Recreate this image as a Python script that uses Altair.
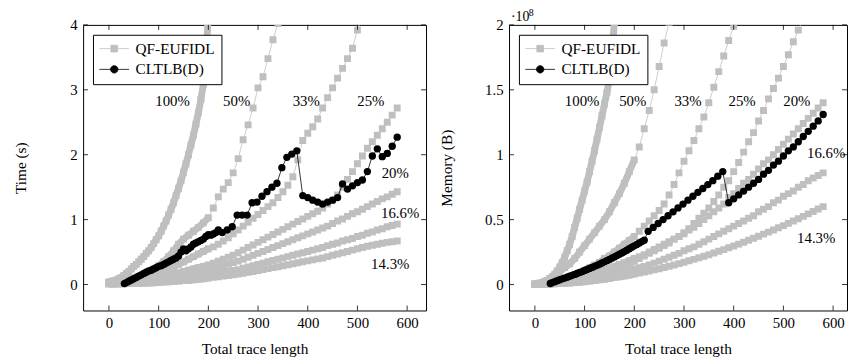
import altair as alt
import pandas as pd

FONT = "Liberation Serif"
GRAY = "#bfbfbf"

SERIES = ["100%", "50%", "33%", "25%", "20%", "16.6%", "14.3%"]

X_FINE = list(range(0, 201, 5))
X_DENSE = list(range(0, 201, 10))
X_SPARSE = list(range(210, 581, 10))
XB_DENSE = [31] + list(range(35, 221, 5))
XB_MID = list(range(228, 379, 10))
XB_END = list(range(390, 581, 10))

X_TICKS = [0, 100, 200, 300, 400, 500, 600]
T_TICKS = [0, 1, 2, 3, 4]
M_TICKS = [0, 0.5, 1, 1.5, 2]

# ---------------- Time (s) ----------------
T100 = [0.04, 0.05, 0.06, 0.07, 0.09, 0.11, 0.14, 0.17, 0.2, 0.24, 0.28, 0.31, 0.35, 0.39, 0.43,
        0.48, 0.52, 0.57, 0.63, 0.69, 0.75, 0.82, 0.9, 0.98, 1.07, 1.16, 1.26, 1.37, 1.48, 1.6,
        1.73, 1.86, 2.0, 2.15, 2.3, 2.47, 2.65, 2.85, 3.08, 3.4, 4.2]
T50_D = [0.03, 0.035, 0.045, 0.06, 0.08, 0.1, 0.13, 0.16, 0.2, 0.24, 0.29, 0.35, 0.43, 0.52, 0.62,
         0.7, 0.76, 0.82, 0.88, 0.95, 1.03]
T50_S = [1.18, 1.35, 1.47, 1.57, 1.72, 1.94, 2.23, 2.46, 2.72, 3.03, 3.2, 3.48, 3.77, 4.02]
T33_D = [0.03, 0.03, 0.035, 0.04, 0.05, 0.06, 0.08, 0.1, 0.12, 0.15, 0.18, 0.21, 0.24, 0.27, 0.31,
         0.35, 0.39, 0.43, 0.47, 0.51, 0.55]
T33_S = [0.58, 0.62, 0.67, 0.72, 0.78, 0.84, 0.9, 0.96, 1.02, 1.08, 1.14, 1.2, 1.26, 1.34, 1.43,
         1.53, 1.66, 1.92, 2.22, 2.33, 2.43, 2.55, 2.72, 2.88, 3.03, 3.18, 3.33, 3.48, 3.64, 3.92, 4.15]
T25_D = [0.02, 0.02, 0.025, 0.03, 0.035, 0.04, 0.05, 0.06, 0.07, 0.09, 0.1, 0.12, 0.14, 0.16, 0.18,
         0.2, 0.22, 0.24, 0.26, 0.28, 0.3]
T25_S = [0.33, 0.36, 0.39, 0.42, 0.45, 0.49, 0.53, 0.57, 0.61, 0.65, 0.69, 0.73, 0.77, 0.81, 0.85,
         0.89, 0.93, 0.97, 1.01, 1.05, 1.09, 1.13, 1.18, 1.24, 1.3, 1.38, 1.5, 1.62, 1.74, 1.86,
         1.98, 2.1, 2.2, 2.3, 2.4, 2.5, 2.61, 2.72]
T20_D = [0.01, 0.01, 0.015, 0.02, 0.025, 0.03, 0.035, 0.04, 0.05, 0.06, 0.07, 0.08, 0.09, 0.1, 0.12,
         0.13, 0.15, 0.17, 0.19, 0.21, 0.23]
T20_S = [0.25, 0.27, 0.29, 0.31, 0.34, 0.36, 0.39, 0.42, 0.45, 0.48, 0.51, 0.54, 0.57, 0.6, 0.63,
         0.66, 0.69, 0.72, 0.75, 0.78, 0.81, 0.84, 0.87, 0.9, 0.94, 0.98, 1.01, 1.05, 1.09, 1.12,
         1.16, 1.2, 1.24, 1.28, 1.32, 1.35, 1.39, 1.43]
T166_D = [0.01, 0.01, 0.012, 0.015, 0.02, 0.022, 0.025, 0.03, 0.035, 0.04, 0.045, 0.05, 0.06, 0.07,
          0.08, 0.09, 0.1, 0.11, 0.12, 0.13, 0.14]
T166_S = [0.155, 0.17, 0.185, 0.2, 0.215, 0.23, 0.25, 0.27, 0.29, 0.31, 0.33, 0.35, 0.37, 0.39, 0.41,
          0.43, 0.45, 0.47, 0.49, 0.51, 0.53, 0.55, 0.57, 0.6, 0.62, 0.64, 0.67, 0.69, 0.71, 0.74,
          0.76, 0.79, 0.81, 0.84, 0.86, 0.89, 0.91, 0.93]
T143_D = [0.01, 0.01, 0.01, 0.012, 0.014, 0.016, 0.018, 0.02, 0.024, 0.028, 0.032, 0.037, 0.042,
          0.048, 0.054, 0.06, 0.067, 0.074, 0.082, 0.09, 0.1]
T143_S = [0.11, 0.12, 0.13, 0.14, 0.15, 0.16, 0.175, 0.19, 0.2, 0.215, 0.23, 0.245, 0.26, 0.275, 0.29,
          0.305, 0.32, 0.335, 0.35, 0.365, 0.38, 0.395, 0.41, 0.43, 0.45, 0.47, 0.49, 0.51, 0.53,
          0.55, 0.57, 0.59, 0.605, 0.62, 0.635, 0.65, 0.66, 0.67]
TB_DENSE = [0.015, 0.03, 0.05, 0.07, 0.09, 0.11, 0.13, 0.15, 0.17, 0.19, 0.21, 0.22, 0.24, 0.26, 0.28,
            0.29, 0.31, 0.33, 0.35, 0.37, 0.39, 0.41, 0.44, 0.5, 0.55, 0.52, 0.55, 0.58, 0.62, 0.64,
            0.66, 0.68, 0.7, 0.74, 0.77, 0.76, 0.78, 0.8, 0.84]
TB_MID = [0.8, 0.84, 0.89, 1.07, 1.07, 1.07, 1.26, 1.27, 1.36, 1.43, 1.5, 1.56, 1.8, 1.96, 2.01, 2.06]
TB_END = [1.37, 1.34, 1.3, 1.27, 1.24, 1.27, 1.3, 1.34, 1.55, 1.47, 1.52, 1.57, 1.61, 1.74, 1.98,
          2.09, 1.97, 2.02, 2.13, 2.27]

# ---------------- Memory (B, x 1e8) ----------------
M100 = [0.005, 0.007, 0.01, 0.015, 0.022, 0.032, 0.045, 0.06, 0.08, 0.105, 0.135, 0.17, 0.21, 0.26,
        0.31, 0.37, 0.44, 0.51, 0.58, 0.65, 0.72, 0.79, 0.87, 0.95, 1.03, 1.12, 1.21, 1.3, 1.39,
        1.48, 1.58, 1.78, 2.02, 2.3]
M50_D = [0.003, 0.01, 0.025, 0.045, 0.07, 0.1, 0.13, 0.16, 0.2, 0.25, 0.3, 0.35, 0.4, 0.45, 0.5,
         0.56, 0.63, 0.7, 0.78, 0.87, 0.96]
M50_S = [1.06, 1.2, 1.34, 1.5, 1.68, 1.86, 2.02]
M33_D = [0.002, 0.005, 0.01, 0.015, 0.025, 0.035, 0.045, 0.06, 0.075, 0.09, 0.11, 0.13, 0.15, 0.17,
         0.2, 0.22, 0.25, 0.28, 0.31, 0.34, 0.37]
M33_S = [0.41, 0.45, 0.49, 0.53, 0.57, 0.62, 0.69, 0.77, 0.86, 0.95, 1.03, 1.11, 1.2, 1.29, 1.4,
         1.52, 1.64, 1.76, 1.88, 1.99]
M25_D = [0.002, 0.004, 0.007, 0.01, 0.015, 0.02, 0.026, 0.033, 0.04, 0.048, 0.056, 0.065, 0.075,
         0.085, 0.096, 0.11, 0.12, 0.135, 0.15, 0.165, 0.18]
M25_S = [0.2, 0.22, 0.24, 0.26, 0.28, 0.3, 0.32, 0.35, 0.37, 0.4, 0.43, 0.47, 0.51, 0.55, 0.59, 0.64,
         0.69, 0.75, 0.8, 0.87, 0.94, 1.02, 1.1, 1.17, 1.26, 1.34, 1.43, 1.51, 1.59, 1.68, 1.77,
         1.87, 1.96, 2.05]
M20_D = [0.002, 0.004, 0.007, 0.011, 0.016, 0.022, 0.029, 0.037, 0.046, 0.056, 0.066, 0.077, 0.088,
         0.1, 0.113, 0.126, 0.14, 0.154, 0.168, 0.183, 0.2]
M20_S = [0.215, 0.23, 0.25, 0.27, 0.29, 0.31, 0.33, 0.35, 0.37, 0.39, 0.42, 0.44, 0.47, 0.5, 0.53,
         0.56, 0.59, 0.62, 0.67, 0.7, 0.74, 0.78, 0.81, 0.85, 0.89, 0.93, 0.96, 1.0, 1.04, 1.08,
         1.12, 1.16, 1.2, 1.24, 1.28, 1.32, 1.36, 1.4]
M166_D = [0.001, 0.002, 0.004, 0.006, 0.009, 0.012, 0.016, 0.02, 0.025, 0.03, 0.036, 0.042, 0.049,
          0.056, 0.064, 0.072, 0.081, 0.09, 0.1, 0.11, 0.12]
M166_S = [0.13, 0.14, 0.15, 0.165, 0.18, 0.195, 0.21, 0.225, 0.24, 0.26, 0.275, 0.29, 0.31, 0.33,
          0.35, 0.37, 0.39, 0.41, 0.43, 0.45, 0.47, 0.49, 0.51, 0.53, 0.56, 0.58, 0.6, 0.63, 0.65,
          0.68, 0.7, 0.72, 0.75, 0.77, 0.8, 0.82, 0.84, 0.86]
M143_D = [0.001, 0.001, 0.002, 0.003, 0.005, 0.007, 0.009, 0.012, 0.015, 0.018, 0.022, 0.026, 0.031,
          0.036, 0.041, 0.047, 0.053, 0.059, 0.066, 0.073, 0.08]
M143_S = [0.088, 0.096, 0.104, 0.113, 0.122, 0.131, 0.141, 0.151, 0.161, 0.172, 0.183, 0.194, 0.206,
          0.218, 0.23, 0.243, 0.256, 0.269, 0.283, 0.297, 0.311, 0.326, 0.341, 0.356, 0.372, 0.388,
          0.404, 0.42, 0.437, 0.454, 0.471, 0.489, 0.507, 0.525, 0.544, 0.563, 0.582, 0.6]
MB_DENSE = [0.008, 0.015, 0.022, 0.03, 0.037, 0.044, 0.05, 0.057, 0.064, 0.071, 0.078, 0.085, 0.093,
            0.1, 0.108, 0.116, 0.124, 0.132, 0.14, 0.148, 0.157, 0.166, 0.175, 0.184, 0.193, 0.203,
            0.213, 0.223, 0.233, 0.243, 0.254, 0.265, 0.276, 0.287, 0.298, 0.309, 0.32, 0.331, 0.342]
MB_MID = [0.41, 0.44, 0.47, 0.5, 0.53, 0.56, 0.59, 0.62, 0.65, 0.68, 0.71, 0.74, 0.77, 0.8, 0.835, 0.87]
MB_END = [0.63, 0.66, 0.69, 0.72, 0.75, 0.78, 0.81, 0.85, 0.88, 0.92, 0.95, 0.99, 1.03, 1.06, 1.1,
          1.14, 1.18, 1.22, 1.26, 1.31]

# curve labels (text, x, y)
T_LABELS = [("100%", 128, 2.83), ("50%", 257, 2.83), ("33%", 397, 2.83), ("25%", 527, 2.83),
            ("20%", 576, 1.71), ("16.6%", 586, 1.1), ("14.3%", 566, 0.32)]
M_LABELS = [("100%", 95, 1.41), ("50%", 197, 1.41), ("33%", 308, 1.41), ("25%", 417, 1.41),
            ("20%", 527, 1.41), ("16.6%", 586, 1.01), ("14.3%", 566, 0.36)]

METHODS = ["QF-EUFIDL", "CLTLB(D)"]

SQ_PATH = "M-2,0H2M-0.45,-0.45H0.45V0.45H-0.45Z"
CI_PATH = "M-2,0H2M0.5,0A0.5,0.5 0 1,1 -0.5,0A0.5,0.5 0 1,1 0.5,0Z"


def build_gray(dense, sparse):
    rd, ra = [], []
    for s in SERIES:
        xd = X_FINE if s == "100%" else X_DENSE
        for x, y in zip(xd, dense[s]):
            rd.append({"series": s, "x": x, "y": y, "method": "QF-EUFIDL"})
            ra.append({"series": s, "x": x, "y": y, "method": "QF-EUFIDL"})
        for x, y in zip(X_SPARSE, sparse.get(s, [])):
            ra.append({"series": s, "x": x, "y": y, "method": "QF-EUFIDL"})
    return pd.DataFrame(rd), pd.DataFrame(ra)


def build_black(yd, ym, ye):
    xs = XB_DENSE + XB_MID + XB_END
    ys = yd + ym + ye
    return pd.DataFrame({"x": xs, "y": ys, "method": "CLTLB(D)"})


def panel(dense_df, all_df, blk_df, labels, ydomain, yticks, ytitle, width, xdomain, height=289,
          exponent=False):
    X = alt.X("x:Q", scale=alt.Scale(domain=xdomain, nice=False, zero=False),
              axis=alt.Axis(values=X_TICKS, labelPadding=5, titlePadding=12,
                            title="Total trace length"))
    Y = alt.Y("y:Q", scale=alt.Scale(domain=ydomain, nice=False, zero=False),
              axis=alt.Axis(values=yticks, format="~g", labelPadding=6, titlePadding=15,
                            minExtent=40, maxExtent=40, title=ytitle))
    cscale = alt.Scale(domain=METHODS, range=[GRAY, "black"])
    leg = alt.Legend(
        title=None, orient="top-left", offset=10, padding=6, strokeColor="black",
        fillColor="white", cornerRadius=0, symbolSize=225, symbolOffset=7.5, labelOffset=13.5,
        rowPadding=4, labelFont=FONT, labelFontSize=15.5, labelColor="black",
        symbolStrokeWidth=0.8, symbolOpacity=1,
        symbolType={"expr": "datum.value === 'CLTLB(D)' ? '%s' : '%s'" % (CI_PATH, SQ_PATH)},
        symbolStrokeColor={"expr": "datum.value === 'CLTLB(D)' ? 'black' : '%s'" % GRAY},
    )
    color = alt.Color("method:N", scale=cscale, legend=leg)

    thick = alt.Chart(dense_df).mark_line(color=GRAY, strokeWidth=7, clip=True,
                                          strokeJoin="round").encode(
        x=X, y=Y, detail="series:N")
    thin = alt.Chart(all_df).mark_line(color=GRAY, strokeWidth=0.8, clip=True).encode(
        x=X, y=Y, detail="series:N")
    sq = alt.Chart(all_df).mark_square(size=49, opacity=1, clip=True).encode(
        x=X, y=Y, color=color)
    bline = alt.Chart(blk_df).mark_line(color="black", strokeWidth=0.8, clip=True).encode(x=X, y=Y)
    bpts = alt.Chart(blk_df).mark_circle(size=55, opacity=1, clip=True).encode(
        x=X, y=Y, color=color)

    lab_df = pd.DataFrame(labels, columns=["label", "x", "y"])
    texts = alt.Chart(lab_df).mark_text(font=FONT, fontSize=15, color="black", align="center",
                                        baseline="middle").encode(x=X, y=Y, text="label:N")

    ydf = pd.DataFrame({"y": yticks})
    xdf = pd.DataFrame({"x": X_TICKS})
    tl = alt.Chart(ydf).mark_rule(color="black", strokeWidth=0.8).encode(
        y=Y, x=alt.value(0), x2=alt.value(5))
    tr = alt.Chart(ydf).mark_rule(color="black", strokeWidth=0.8).encode(
        y=Y, x=alt.value(width - 5), x2=alt.value(width))
    tb = alt.Chart(xdf).mark_rule(color="black", strokeWidth=0.8).encode(
        x=X, y=alt.value(height - 5), y2=alt.value(height))
    tt = alt.Chart(xdf).mark_rule(color="black", strokeWidth=0.8).encode(
        x=X, y=alt.value(0), y2=alt.value(5))

    layers = [thick, thin, sq, bline, bpts, texts, tl, tr, tb, tt]
    if exponent:
        base = alt.Chart(pd.DataFrame({"t": ["\u00b710"]})).mark_text(
            font=FONT, fontSize=14, color="black", align="left", baseline="alphabetic").encode(
            x=alt.value(2), y=alt.value(-4), text="t:N")
        sup = alt.Chart(pd.DataFrame({"t": ["8"]})).mark_text(
            font=FONT, fontSize=10, color="black", align="left", baseline="alphabetic").encode(
            x=alt.value(20), y=alt.value(-9), text="t:N")
        layers += [base, sup]
    return alt.layer(*layers).properties(width=width, height=height)


t_dense = {"100%": T100, "50%": T50_D, "33%": T33_D, "25%": T25_D, "20%": T20_D,
           "16.6%": T166_D, "14.3%": T143_D}
t_sparse = {"50%": T50_S, "33%": T33_S, "25%": T25_S, "20%": T20_S, "16.6%": T166_S,
            "14.3%": T143_S}
m_dense = {"100%": M100, "50%": M50_D, "33%": M33_D, "25%": M25_D, "20%": M20_D,
           "16.6%": M166_D, "14.3%": M143_D}
m_sparse = {"50%": M50_S, "33%": M33_S, "25%": M25_S, "20%": M20_S, "16.6%": M166_S,
            "14.3%": M143_S}

td, ta = build_gray(t_dense, t_sparse)
md, ma = build_gray(m_dense, m_sparse)
tb_df = build_black(TB_DENSE, TB_MID, TB_END)
mb_df = build_black(MB_DENSE, MB_MID, MB_END)

left = panel(td, ta, tb_df, T_LABELS, [-0.4, 4], T_TICKS, "Time (s)", 347, [-52, 638])
right = panel(md, ma, mb_df, M_LABELS, [-0.2, 2], M_TICKS, "Memory (B)", 342, [-52, 628],
              exponent=True)

chart = alt.hconcat(left, right, spacing=12).resolve_scale(
    color="independent").resolve_legend(color="independent").properties(
    padding={"left": 5, "top": -3, "right": 0, "bottom": 0}
).configure_view(stroke="black", strokeWidth=1).configure_axis(
    labelFont=FONT, labelFontSize=15, labelColor="black", titleFont=FONT, titleFontSize=15.5,
    titleFontWeight="normal", titleColor="black", grid=False, ticks=False, domain=False
)

chart.save("out.html", embed_options={"renderer": "svg", "actions": False})
